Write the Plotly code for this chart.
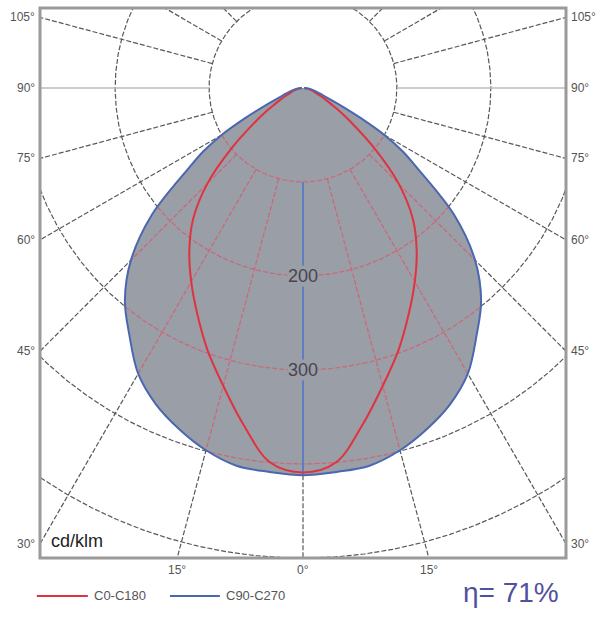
import numpy as np
import plotly.graph_objects as go

# Photometric data (gamma angle in degrees from nadir, intensity in cd/klm)
gamma = [0, 5, 10, 15, 20, 25, 30, 35, 40, 45, 50, 55, 57.5, 60, 62.5, 65, 70, 75, 80, 85, 90]
i_c0_c180 = [409, 400, 364, 328, 297, 266, 238, 211, 182, 144, 98, 60, 47, 35, 27, 21, 13, 9, 5, 3, 1]
i_c90_c270 = [412, 410, 408, 399, 386, 371, 351, 322, 295, 259, 210, 148, 126, 100, 69, 45, 22, 14, 9, 4, 1]

series_names = ["C0-C180", "C90-C270"]
circle_values = [100, 200, 300, 400, 500, 600]
circle_labels = ["200", "300"]
label_values = [200, 300]
radial_angles = [15, 30, 45, 60, 75, 105, 120, 135, 150, 165, 180]
side_tick_angles = [105, 90, 75, 60, 45, 30]
bottom_tick_angles = [-15, 0, 15]
efficiency_text = "η= 71%"
unit_text = "cd/klm"

XR = 280
YT, YB = 85, -500

FILL = "#9a9ea6"
BLUE = "#4a67b0"
RED = "#e0323f"
GRID = "#585858"
PINK = "rgba(214,92,112,0.85)"
FONT = "Liberation Sans"


def to_xy(r, th_deg):
    th = np.radians(th_deg)
    return r * np.sin(th), -r * np.cos(th)


def is_inside(r, th_deg):
    g = np.abs(th_deg)
    lim = np.interp(np.minimum(g, 90), gamma, i_c90_c270)
    return (g <= 90) & (r < lim)


def join(segs):
    xs, ys = [], []
    for x, y in segs:
        xs += list(x) + [None]
        ys += list(y) + [None]
    return xs, ys


grey_segs, pink_segs = [], []
th_full = np.linspace(-180, 180, 1441)
for R in circle_values:
    r = np.full_like(th_full, R, dtype=float)
    x, y = to_xy(r, th_full)
    grey_segs.append((x, y))
    m = is_inside(r, th_full)
    pink_segs.append((np.where(m, x, np.nan), np.where(m, y, np.nan)))

r_line = np.linspace(100, 900, 801)
for a in radial_angles:
    for s in ([1, -1] if a != 180 else [1]):
        th = np.full_like(r_line, s * a)
        x, y = to_xy(r_line, th)
        grey_segs.append((x, y))
        m = is_inside(r_line, th)
        pink_segs.append((np.where(m, x, np.nan), np.where(m, y, np.nan)))

# 0 deg line below the curve
r0 = np.linspace(i_c90_c270[0], 900, 50)
x0, y0 = to_xy(r0, np.zeros_like(r0))
grey_segs.append((x0, y0))

fig = go.Figure()

gx, gy = join(grey_segs)
fig.add_trace(go.Scatter(x=gx, y=gy, mode="lines", hoverinfo="skip", showlegend=False,
                         line=dict(color=GRID, width=1.2, dash="5px,2px")))

# 90 deg horizontal lines
rh = np.linspace(100, 900, 20)
hx1, hy1 = to_xy(rh, np.full_like(rh, 90))
hx2, hy2 = to_xy(rh, np.full_like(rh, -90))
hx, hy = join([(hx1, hy1), (hx2, hy2)])
fig.add_trace(go.Scatter(x=hx, y=hy, mode="lines", hoverinfo="skip", showlegend=False,
                         line=dict(color="#bdbdbd", width=1.5)))

# C90-C270 filled (full symmetric curve)
g = np.array(gamma, dtype=float)
ib = np.array(i_c90_c270, dtype=float)
ir = np.array(i_c0_c180, dtype=float)
th_b = np.concatenate([-g[::-1], g[1:]])
r_b = np.concatenate([ib[::-1], ib[1:]])
r_r = np.concatenate([ir[::-1], ir[1:]])
bx, by = to_xy(r_b, th_b)
rx, ry = to_xy(r_r, th_b)

fig.add_trace(go.Scatter(x=bx, y=by, mode="lines", fill="toself", fillcolor=FILL,
                         line=dict(color=FILL, width=0, shape="spline"), hoverinfo="skip",
                         showlegend=False))

px_, py_ = join(pink_segs)
fig.add_trace(go.Scatter(x=px_, y=py_, mode="lines", hoverinfo="skip", showlegend=False,
                         line=dict(color=PINK, width=1.2, dash="5px,2px")))

# 0 deg line inside the curve
rv = np.linspace(100, i_c90_c270[0], 20)
vx, vy = to_xy(rv, np.zeros_like(rv))
fig.add_trace(go.Scatter(x=vx, y=vy, mode="lines", hoverinfo="skip", showlegend=False,
                         line=dict(color="#5f7dc0", width=2)))

fig.add_trace(go.Scatter(x=rx, y=ry, mode="lines", name=series_names[0], showlegend=False,
                         line=dict(color=RED, width=2, shape="spline")))
fig.add_trace(go.Scatter(x=bx, y=by, mode="lines", name=series_names[1], showlegend=False,
                         line=dict(color=BLUE, width=2, shape="spline")))

annotations = []
for v, t in zip(label_values, circle_labels):
    annotations.append(dict(x=0, y=-v, text=t, showarrow=False, xref="x", yref="y",
                            font=dict(size=18, color="#4a4450", family=FONT),
                            bgcolor=FILL, borderpad=0))

for a in side_tick_angles:
    yv = -XR / np.tan(np.radians(a)) if a != 90 else 0.0
    for side in (-1, 1):
        annotations.append(dict(x=side * XR, y=yv, text=f"{a}°", showarrow=False,
                                xref="x", yref="y",
                                xanchor="right" if side < 0 else "left",
                                xshift=-3 if side < 0 else 3,
                                font=dict(size=12, color="#555", family=FONT)))
for a in bottom_tick_angles:
    xv = -YB * np.tan(np.radians(a))
    annotations.append(dict(x=xv, y=YB, text=f"{abs(a)}°", showarrow=False,
                            xref="x", yref="y", yanchor="top", yshift=-3,
                            font=dict(size=12, color="#555", family=FONT)))

annotations.append(dict(x=-270, y=-482, text=unit_text, showarrow=False, xref="x", yref="y",
                        xanchor="left", font=dict(size=18, color="#222", family=FONT)))
annotations.append(dict(x=0.895, y=-0.063, text=efficiency_text, showarrow=False,
                        xref="paper", yref="paper", xanchor="center", yanchor="middle",
                        font=dict(size=28, color="#52509c", family=FONT)))

# manual legend (line samples + real text)
legend_y = -0.069
legend_items = [(series_names[0], RED, -0.006, 0.091), (series_names[1], BLUE, 0.247, 0.342)]
shapes = [dict(type="rect", xref="paper", yref="paper", x0=0, x1=1, y0=0, y1=1,
               line=dict(color="#9a9a9a", width=3), layer="above")]
for name, col, x0l, x1l in legend_items:
    shapes.append(dict(type="line", xref="paper", yref="paper", x0=x0l, x1=x1l,
                       y0=legend_y, y1=legend_y, line=dict(color=col, width=2)))
    annotations.append(dict(x=x1l + 0.008, y=legend_y, text=name, showarrow=False,
                            xref="paper", yref="paper", xanchor="left", yanchor="middle",
                            font=dict(size=13, color="#555", family=FONT)))

fig.update_layout(
    width=600, height=620,
    margin=dict(l=40, r=34, t=8, b=62),
    paper_bgcolor="white", plot_bgcolor="white",
    xaxis=dict(range=[-XR, XR], visible=False, fixedrange=True),
    yaxis=dict(range=[YB, YT], visible=False, fixedrange=True),
    showlegend=False,
    annotations=annotations,
    shapes=shapes,
)

fig.write_html("out.html")
